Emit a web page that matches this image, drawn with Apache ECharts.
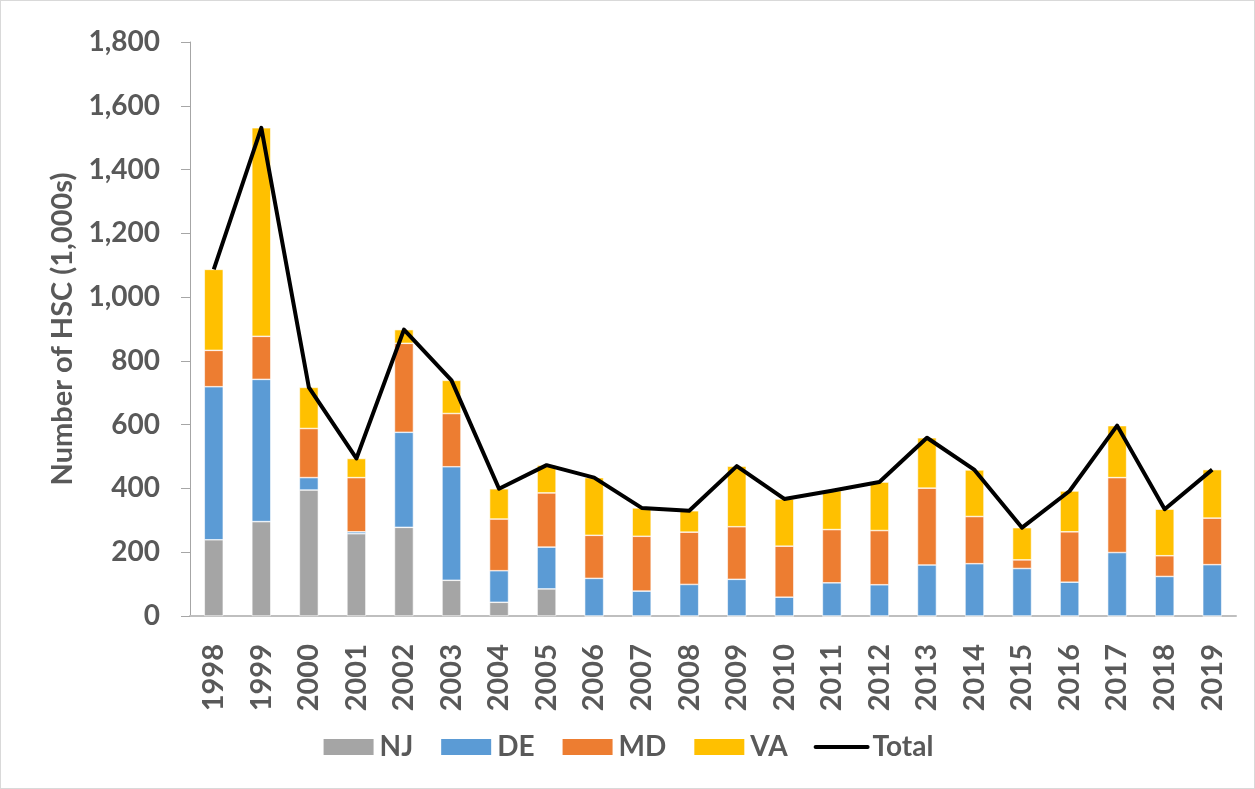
<!DOCTYPE html>
<html>
<head>
<meta charset="utf-8">
<script src="https://cdn.jsdelivr.net/npm/echarts@6/dist/echarts.min.js"></script>
<style>
  html, body { margin: 0; padding: 0; background: #fff; }
  #chart { width: 1253px; height: 787px; border: 1px solid #d9d9d9; }
</style>
</head>
<body>
<div id="chart"></div>
<script>
// values in 1,000s
const years = ['1998', '1999', '2000', '2001', '2002', '2003', '2004', '2005', '2006', '2007', '2008',
  '2009', '2010', '2011', '2012', '2013', '2014', '2015', '2016', '2017', '2018', '2019']
const nj = [239, 296, 395, 258, 278, 112, 43, 85, 0, 0, 0, 0, 0, 0, 0, 0, 0, 0, 0, 0, 0, 0]
const de = [480, 446, 39, 6, 298, 356, 99, 131, 118, 78, 99, 115, 59, 104, 98, 160, 164, 149, 106, 199, 124, 161]
const md = [114, 135, 154, 170, 279, 167, 162, 170, 135, 172, 164, 165, 160, 167, 170, 241, 148, 27, 158, 235, 65, 146]
const va = [254, 654, 129, 60, 43, 104, 95, 87, 181, 89, 67, 190, 148, 122, 152, 158, 146, 101, 128, 163, 146, 152]
const total = [1087, 1531, 717, 494, 898, 739, 399, 473, 434, 339, 330, 470, 367, 393, 420, 559, 458, 277, 392, 597, 335, 459]

const textColor = '#595959'
const fontFamily = 'Lato, "Open Sans", sans-serif'

const chart = echarts.init(document.getElementById('chart'))

function barSeries (name, data, color) {
  return {
    name: name,
    type: 'bar',
    stack: 'hsc',
    barWidth: 19,
    data: data,
    itemStyle: { color: color, borderColor: '#fff', borderWidth: 0.6 }
  }
}

chart.setOption({
  animation: false,
  textStyle: { fontFamily: fontFamily },
  grid: { left: 189, right: 18, top: 41, bottom: 172 },
  legend: {
    bottom: 22,
    left: 'center',
    itemWidth: 52,
    itemHeight: 18,
    itemGap: 26,
    textStyle: { fontSize: 28, fontWeight: 'bold', color: textColor, fontFamily: fontFamily },
    data: [
      { name: 'NJ', icon: 'rect' },
      { name: 'DE', icon: 'rect' },
      { name: 'MD', icon: 'rect' },
      { name: 'VA', icon: 'rect' },
      { name: 'Total', itemStyle: { opacity: 0 }, lineStyle: { width: 4, color: '#000', cap: 'round' } }
    ]
  },
  xAxis: {
    type: 'category',
    data: years,
    axisLine: { lineStyle: { color: '#bfbfbf', width: 2 } },
    axisTick: { show: false },
    axisLabel: {
      rotate: 90,
      margin: 28,
      fontSize: 29,
      fontWeight: 'bold',
      color: textColor,
      fontFamily: fontFamily
    }
  },
  yAxis: {
    type: 'value',
    min: 0,
    max: 1800,
    interval: 200,
    name: 'Number of HSC (1,000s)',
    nameLocation: 'middle',
    nameRotate: 90,
    nameGap: 110,
    nameTextStyle: { fontSize: 29, fontWeight: 'bold', color: textColor, fontFamily: fontFamily },
    splitLine: { show: false },
    axisLine: { show: true, lineStyle: { color: '#a6a6a6', width: 1 } },
    axisTick: { show: true, length: 9, lineStyle: { color: '#a6a6a6' } },
    axisLabel: {
      margin: 30,
      fontSize: 28,
      fontWeight: 'bold',
      color: textColor,
      fontFamily: fontFamily,
      formatter: v => v.toLocaleString('en-US')
    }
  },
  series: [
    barSeries('NJ', nj, '#a5a5a5'),
    barSeries('DE', de, '#5b9bd5'),
    barSeries('MD', md, '#ed7d31'),
    barSeries('VA', va, '#ffc000'),
    {
      name: 'Total',
      type: 'line',
      data: total,
      symbol: 'none',
      itemStyle: { color: '#000' },
      lineStyle: { color: '#000', width: 4, join: 'round' },
      z: 5
    }
  ]
})
</script>
</body>
</html>
